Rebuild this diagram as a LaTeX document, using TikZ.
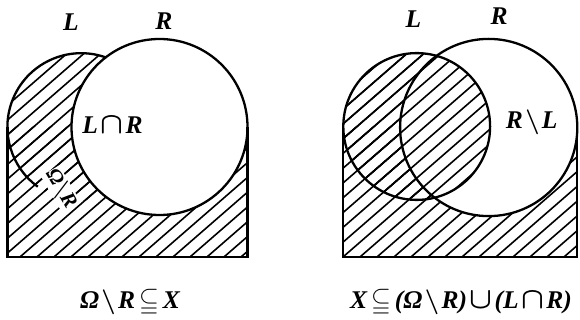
\documentclass[tikz,border=0pt]{standalone}
\usepackage{amssymb}
\usepackage{fontspec}
\setmainfont{Liberation Serif}
\newcommand\tightmath{\medmuskip=1.5mu\relax\thickmuskip=2.5mu\relax}
\newcommand\tightermath{\medmuskip=0mu\relax}
\tikzset{
  outline/.style={line width=2.3pt},
  hatchline/.style={line width=1.6pt},
  lab/.style={inner sep=1pt,font=\fontsize{25.5}{29}\selectfont\bfseries\itshape\boldmath\tightmath},
  smalllab/.style={inner sep=0.3pt,fill=white,font=\fontsize{21}{24}\selectfont\bfseries\itshape\boldmath\tightermath},
}
\newcommand\hatchlines{\foreach \k in {0,...,62} \draw[hatchline] ({-420+17*\k},270) -- ++(345,-300);}
\newcommand\bigcapsym{\mathbin{\scalebox{1.2}{$\cap$}}}
\newcommand\bigcupsym{\mathbin{\scalebox{1.2}{$\cup$}}}
\newcommand\mysetminus{\mathbin{\setminus}}
\begin{document}
\begin{tikzpicture}[x=1pt,y=-1pt]
\useasboundingbox (0,0) rectangle (580,320);
% ---------------- left figure ----------------
\coordinate (Lc1) at (81.2,127);
\coordinate (Rc1) at (159.5,127);
\coordinate (BL1) at (7.4,257);
\coordinate (BR1) at (247.5,257);
\coordinate (TL1) at (7.4,127);
\coordinate (TR1) at (247.5,127);
\begin{scope}\clip (TL1) rectangle (BR1); \hatchlines \end{scope}
\begin{scope}\clip (Lc1) circle[radius=73.8]; \hatchlines \end{scope}
\fill[white] (Rc1) circle[radius=88];
\draw[outline] (TL1) -- (BL1) -- (BR1) -- (TR1);
\draw[outline] (Rc1) circle[radius=88];
\draw[outline] (Lc1) ++(-70:73.8) arc[start angle=-70,end angle=-234,radius=73.8];
\node[smalllab,rotate=-59.5] (omr) at (60.7,189) {$\textit{Ω}\mysetminus\textit{R}$};
\node[lab] (l1) at (70.8,22.5) {L};
\node[lab] (r1) at (164,21) {R};
\node[lab] (lr1) at (112.5,125) {$\textit{L}\bigcapsym\textit{R}$};
\node[lab] (cap1) at (130,302) {$\textit{Ω}\mysetminus\textit{R}\subseteqq\textit{X}$};
% ---------------- right figure ----------------
\coordinate (Lc2) at (416.7,126.5);
\coordinate (Rc2) at (488.7,127.5);
\coordinate (BL2) at (343.3,257);
\coordinate (BR2) at (577.3,257);
\coordinate (TL2) at (343.3,127);
\coordinate (TR2) at (577.3,127);
\begin{scope}\clip (TL2) rectangle (BR2); \hatchlines \end{scope}
\begin{scope}\clip (Lc2) circle[radius=73.4]; \hatchlines \end{scope}
\fill[white] (Rc2) circle[radius=88.6];
\begin{scope}\clip (Lc2) circle[radius=73.4]; \hatchlines \end{scope}
\draw[outline] (TL2) -- (BL2) -- (BR2) -- (TR2);
\draw[outline] (Rc2) circle[radius=88.6];
\draw[outline] (Lc2) circle[radius=73.4];
\node[lab] (l2) at (413.3,19) {L};
\node[lab] (r2) at (499,16) {R};
\node[lab] (rl2) at (531.7,122) {$\textit{R}\mysetminus\textit{L}$};
\node[lab] (cap2) at (461,302) {$\textit{X}\subseteqq\textit{(Ω}\mysetminus\textit{R)}\bigcupsym\textit{(L}\bigcapsym\textit{R)}$};
\end{tikzpicture}
\end{document}
